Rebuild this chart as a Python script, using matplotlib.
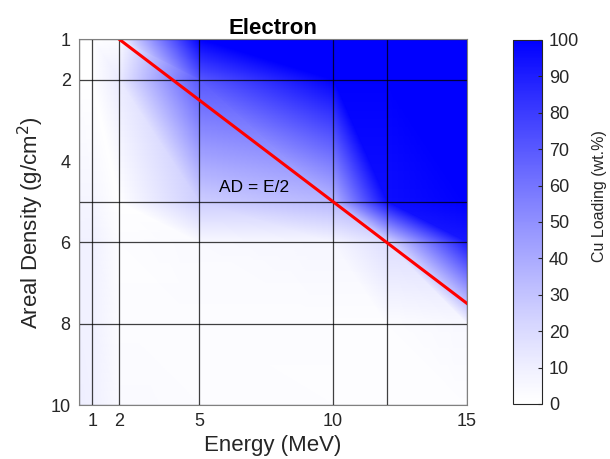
import numpy as np
import matplotlib
matplotlib.use("Agg")
import matplotlib.pyplot as plt
import matplotlib.tri as mtri
from matplotlib.colors import LinearSegmentedColormap

plt.rcParams["font.family"] = ["Liberation Sans", "DejaVu Sans"]

# grid nodes (energy in MeV, areal density in g/cm^2)
energy = [0.5, 1, 2, 5, 10, 12, 15]
areal_density = [1, 2, 5, 6, 8, 10]

# Cu loading (wt.%) at each node, rows follow areal_density
cu_loading = [
    [0, 0, 3, 100, 100, 100, 100],
    [0, 0, 12, 70, 100, 100, 100],
    [6, 7, 0, 25, 35, 95, 100],
    [9, 9, 2, 4, 6, 18, 92],
    [9, 9, 3, 3, 2, 2, 5],
    [10, 9, 4, 3, 2, 2, 2],
]

xticks = [1, 2, 5, 10, 15]
yticks = [1, 2, 4, 6, 8, 10]
cticks = list(range(0, 101, 10))

# white -> blue colormap
t = np.linspace(0, 1, 256)
w = 1 - t ** 1.2
cmap = LinearSegmentedColormap.from_list("wb", np.column_stack([w, w, np.ones_like(t)]))

E, A = np.meshgrid(energy, areal_density)
Z = np.array(cu_loading, dtype=float)
nx, ny = len(energy), len(areal_density)
tris = []
for j in range(ny - 1):
    for i in range(nx - 1):
        a = j * nx + i
        b = a + 1
        c = a + nx
        d = c + 1
        tris.append([a, b, d])
        tris.append([a, c, d])
tri = mtri.Triangulation(E.ravel(), A.ravel(), tris)

fig = plt.figure(figsize=(6.1, 4.59), dpi=100)
ax = fig.add_axes([0.1295, 0.1176, 0.636, 0.797])
cax = fig.add_axes([0.841, 0.12, 0.0475, 0.793])

tp = ax.tripcolor(tri, Z.ravel(), shading="gouraud", cmap=cmap, vmin=0, vmax=100)

for e in energy:
    ax.axvline(e, color="black", lw=0.9, alpha=0.75)
for a in areal_density:
    ax.axhline(a, color="black", lw=0.9, alpha=0.75)

# AD = E/2 line
line_e = np.array([2, 15])
ax.plot(line_e, line_e / 2, color="red", lw=2.2)
ax.text(7.05, 4.66, "AD = E/2", fontsize=12.5, ha="center", va="center")

ax.set_xlim(0.5, 15)
ax.set_ylim(10, 1)
ax.set_xticks(xticks)
ax.set_yticks(yticks)
ax.tick_params(length=0, labelsize=13, pad=6, colors="#262626")
for s in ax.spines.values():
    s.set_color("#808080")
ax.set_xlabel("Energy (MeV)", fontsize=16, labelpad=3, color="#262626")
ax.set_ylabel("Areal Density (g/cm$^2$)", fontsize=16, labelpad=3, color="#262626")
ax.set_title("Electron", fontsize=16, fontweight="bold", pad=3)

cb = fig.colorbar(tp, cax=cax, ticks=cticks)
cb.ax.tick_params(direction="in", length=3, labelsize=13, pad=5, colors="#262626")
cb.outline.set_edgecolor("#262626")
cb.set_label("Cu Loading (wt.%)", fontsize=11.5, color="#262626")
cb.ax.yaxis.set_label_coords(2.72, 0.57)

fig.savefig("out.png", dpi=100)
